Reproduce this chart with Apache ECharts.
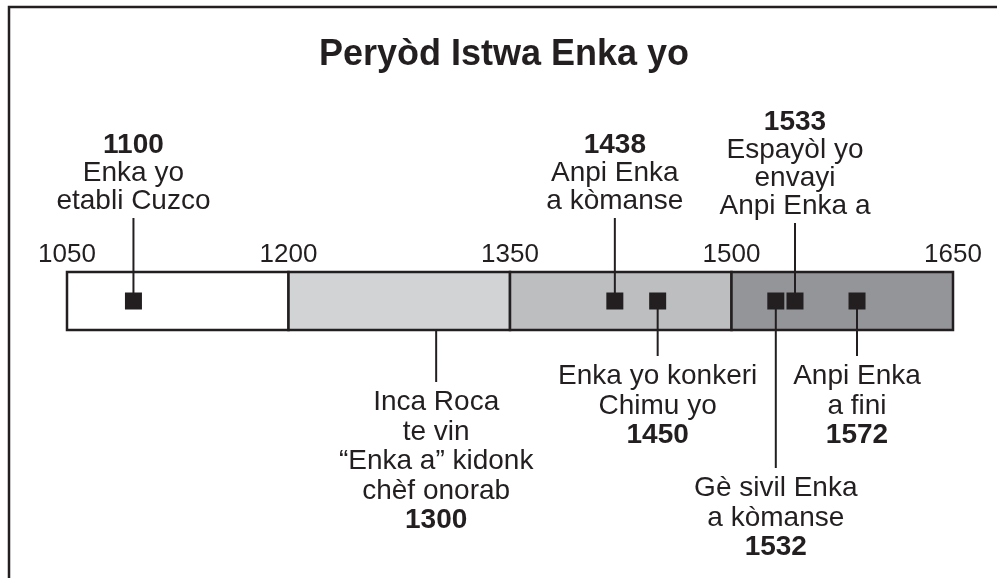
<!DOCTYPE html>
<html>
<head>
<meta charset="utf-8">
<script src="https://cdn.jsdelivr.net/npm/echarts@6/dist/echarts.min.js"></script>
<style>
html,body{margin:0;padding:0;background:#fff;}
#chart{width:997px;height:578px;}
</style>
</head>
<body>
<div id="chart"></div>
<script>
// ---- data ----
const titleText = 'Peryòd Istwa Enka yo';
const periodStarts = [1050, 1200, 1350, 1500];
const periodEnds = [1200, 1350, 1500, 1650];
const axisMin = 1050, axisMax = 1650, axisStep = 150;
const eventYears = [1100, 1300, 1438, 1450, 1532, 1533, 1572];
// positions where each event is drawn on the timeline
const eventPositions = [1095, 1300, 1421, 1450, 1530, 1543, 1585];
const eventHasMarker = [true, false, true, true, true, true, true];
const eventTexts = [
  ['Enka yo', 'etabli Cuzco'],
  ['Inca Roca', 'te vin', '“Enka a” kidonk', 'chèf onorab'],
  ['Anpi Enka', 'a kòmanse'],
  ['Enka yo konkeri', 'Chimu yo'],
  ['Gè sivil Enka', 'a kòmanse'],
  ['Espayòl yo', 'envayi', 'Anpi Enka a'],
  ['Anpi Enka', 'a fini']
];

// ---- layout / style ----
const periodColors = ['#ffffff', '#d1d3d4', '#bcbec0', '#939598'];
const ink = '#231f20';
const fontFam = '"Liberation Sans", Arial, Helvetica, sans-serif';
const eventSide = ['up', 'down', 'up', 'down', 'down', 'up', 'down'];
const lineEndY = [218, 382, 218, 356, 468, 223, 356];   // pixel end of connector
const gapUp = 3, gapDown = 6;
const lineHUp = 28, lineHDown = 29.5;
const labelSize = 28;

const chart = echarts.init(document.getElementById('chart'), null, {renderer: 'canvas'});

function labelText(i) {
  const up = eventSide[i] === 'up';
  const n = up ? 'nu' : 'nd', b = up ? 'bu' : 'bd';
  const desc = eventTexts[i].map(t => '{' + n + '|' + t + '}');
  const yr = '{' + b + '|' + eventYears[i] + '}';
  return up ? [yr].concat(desc).join('\n') : desc.concat([yr]).join('\n');
}

function st(bold, lh) {
  return {fontFamily: fontFam, fontSize: labelSize, fontWeight: bold ? 'bold' : 'normal', lineHeight: lh, fill: ink, color: ink};
}
const rich = {nu: st(false, lineHUp), bu: st(true, lineHUp), nd: st(false, lineHDown), bd: st(true, lineHDown)};

const option = {
  animation: false,
  backgroundColor: '#ffffff',
  grid: {left: 67, right: 44, top: 272, height: 58},
  xAxis: {
    type: 'value', min: axisMin, max: axisMax, interval: axisStep,
    position: 'top',
    axisLine: {show: false}, axisTick: {show: false}, splitLine: {show: false},
    axisLabel: {show: true, margin: 4, fontSize: 26, color: ink, fontFamily: fontFam,
      showMinLabel: true, showMaxLabel: true, formatter: v => String(v)}
  },
  yAxis: {type: 'value', min: 0, max: 1, show: false},
  graphic: [
    {type: 'rect', shape: {x: 9, y: 7, width: 1010, height: 620}, style: {fill: 'none', stroke: ink, lineWidth: 2.5}, z: 100},
    {type: 'text', x: 504, y: 55, style: {text: titleText, fontFamily: fontFam, fontSize: 36, fontWeight: 'bold', fill: ink, align: 'center', verticalAlign: 'middle'}}
  ],
  series: [
    {
      type: 'custom',
      data: periodStarts.map((s, i) => [s, periodEnds[i], i]),
      renderItem: function (params, api) {
        const p0 = api.coord([api.value(0), 1]);
        const p1 = api.coord([api.value(1), 0]);
        return {
          type: 'rect',
          shape: {x: p0[0], y: p0[1], width: p1[0] - p0[0], height: p1[1] - p0[1]},
          style: {fill: periodColors[api.value(2)], stroke: ink, lineWidth: 2.5}
        };
      },
      z: 1
    },
    {
      type: 'custom',
      data: eventPositions.map((p, i) => [p, i]),
      renderItem: function (params, api) {
        const i = api.value(1);
        const mid = api.coord([api.value(0), 0.5]);
        const top = api.coord([api.value(0), 1]);
        const bot = api.coord([api.value(0), 0]);
        const up = eventSide[i] === 'up';
        const startY = eventHasMarker[i] ? mid[1] : (up ? top[1] : bot[1]);
        const endY = lineEndY[i];
        return {
          type: 'group',
          children: [
            {type: 'line', shape: {x1: mid[0], y1: startY, x2: mid[0], y2: endY}, style: {stroke: ink, lineWidth: 2}},
            {type: 'text', x: mid[0], y: up ? endY - gapUp : endY + gapDown,
             style: {text: labelText(i), rich: rich, align: 'center', verticalAlign: up ? 'bottom' : 'top',
                     fill: ink, fontFamily: fontFam, fontSize: labelSize}}
          ]
        };
      },
      z: 2
    },
    {
      type: 'scatter',
      data: eventPositions.map((p, i) => eventHasMarker[i] ? [p, 0.5] : null).filter(d => d),
      symbol: 'rect', symbolSize: 17,
      itemStyle: {color: ink, opacity: 1},
      z: 3
    }
  ]
};
chart.setOption(option);
</script>
</body>
</html>
